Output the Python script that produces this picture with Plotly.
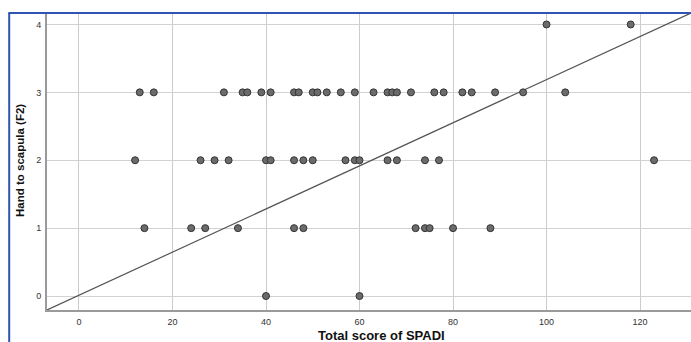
import plotly.graph_objects as go

# Data (x = Total score of SPADI, y = Hand to scapula F2)
row4_x = [100, 118]
row3_x = [13, 16, 31, 35, 36, 39, 41, 46, 47, 50, 51, 53, 56, 59, 63, 66, 67, 68, 71, 76, 78, 82, 84, 89, 95, 104]
row2_x = [12, 26, 29, 32, 40, 41, 46, 48, 50, 57, 59, 60, 66, 68, 74, 77, 123]
row1_x = [14, 24, 27, 34, 46, 48, 72, 74, 75, 80, 88]
row0_x = [40, 60]

scores = row4_x + row3_x + row2_x + row1_x + row0_x
f2 = [4] * len(row4_x) + [3] * len(row3_x) + [2] * len(row2_x) + [1] * len(row1_x) + [0] * len(row0_x)

# Reference line end points
line_x = [-6.84, 130.9]
line_y = [-0.206, 4.169]

x_ticks = [0, 20, 40, 60, 80, 100, 120]
y_ticks = [0, 1, 2, 3, 4]

fig = go.Figure()
fig.add_trace(go.Scatter(
    x=line_x, y=line_y, mode="lines",
    line=dict(color="#555555", width=1.2), hoverinfo="skip", showlegend=False))
fig.add_trace(go.Scatter(
    x=scores, y=f2, mode="markers",
    marker=dict(size=7, color="#6b6b6b", line=dict(color="#333333", width=1)),
    showlegend=False))

axis_font = dict(family="Arial, Liberation Sans, sans-serif", size=9, color="#333333")
fig.update_layout(
    width=691, height=342,
    margin=dict(l=47, r=0, t=13, b=32),
    paper_bgcolor="white", plot_bgcolor="white",
    xaxis=dict(range=[-6.84, 130.9], tickvals=x_ticks, ticktext=[str(v) for v in x_ticks],
               showgrid=True, gridcolor="#cccccc", gridwidth=1.2, zeroline=False,
               showline=True, linecolor="#9a9a9a", linewidth=2, ticks="",
               tickfont=axis_font, ticklabelstandoff=2),
    yaxis=dict(range=[-0.206, 4.169], tickvals=y_ticks, ticktext=[str(v) for v in y_ticks],
               showgrid=True, gridcolor="#d2d2d2", gridwidth=1.2, zeroline=False,
               showline=True, linecolor="#9a9a9a", linewidth=2, ticks="",
               tickfont=axis_font, ticklabelstandoff=2),
    annotations=[
        dict(text="<b>Hand to scapula (F2)</b>", textangle=-90, xref="paper", yref="paper",
             x=-0.042, y=0.505, xanchor="center", yanchor="middle", showarrow=False,
             font=dict(family="Arial, Liberation Sans, sans-serif", size=11.5, color="#111111")),
        dict(text="<b>Total score of SPADI</b>", xref="paper", yref="paper",
             x=0.52, y=-0.113, xanchor="center", yanchor="bottom", showarrow=False,
             borderpad=0,
             font=dict(family="Arial, Liberation Sans, sans-serif", size=13, color="#111111")),
    ],
    shapes=[
        dict(type="line", xref="paper", yref="paper", x0=-0.06, x1=1.0, y0=1.0, y1=1.0,
             line=dict(color="#2f55b0", width=2)),
        dict(type="line", xref="paper", yref="paper", x0=-0.0587, x1=-0.0587, y0=1.0, y1=-0.12,
             line=dict(color="#2f55b0", width=2)),
    ],
)

fig.write_html("out.html", config={"displayModeBar": False},
               post_script="document.body.style.margin='0px';document.body.style.overflow='hidden';")
